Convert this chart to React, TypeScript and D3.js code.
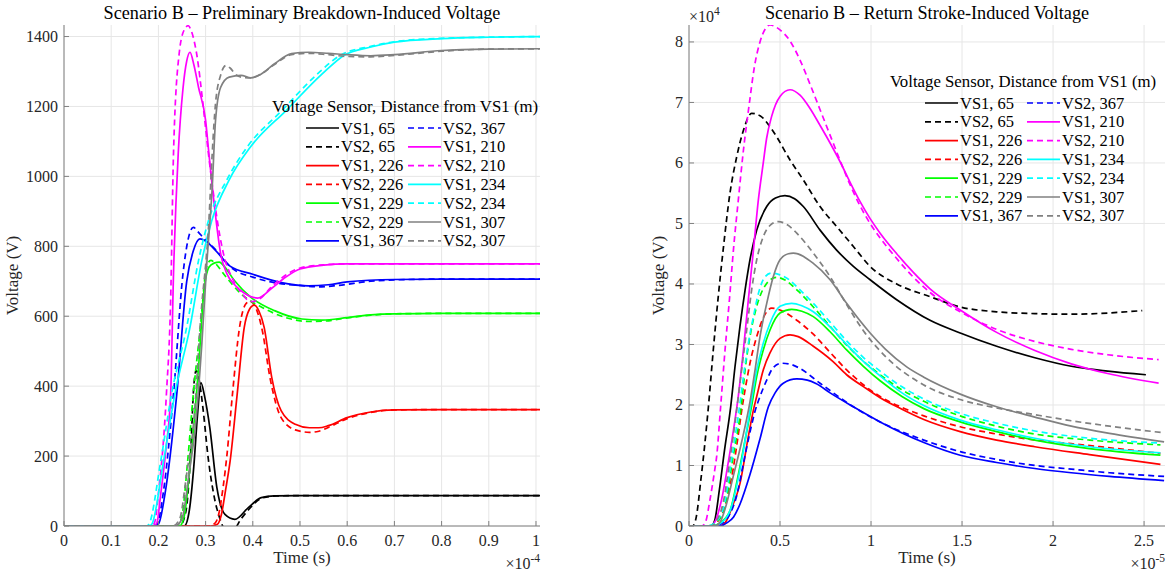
import React from 'react';
import * as d3 from 'd3';

type Pt = [number, number];

// ---------- Series metadata (plot / legend order) ----------
const SERIES_NAMES = ['VS1, 65', 'VS2, 65', 'VS1, 226', 'VS2, 226', 'VS1, 229', 'VS2, 229', 'VS1, 367',
  'VS2, 367', 'VS1, 210', 'VS2, 210', 'VS1, 234', 'VS2, 234', 'VS1, 307', 'VS2, 307'];
const SERIES_COLORS = ['#000000', '#000000', '#ff0000', '#ff0000', '#00ff00', '#00ff00', '#0000ff',
  '#0000ff', '#ff00ff', '#ff00ff', '#00ffff', '#00ffff', '#808080', '#808080'];
const SERIES_DASHED = [false, true, false, true, false, true, false, true, false, true, false, true, false, true];

// ---------- Preliminary breakdown (time in 1e-4 s, voltage in V) ----------
const pbVS1_65: Pt[] = [[0,0],[0.255,0],[0.265,40],[0.275,170],[0.283,320],[0.29,410],[0.298,370],[0.309,281],[0.324,109],[0.341,33],[0.362,19],[0.39,52],[0.418,81],[0.446,86],[0.5,87],[1.0085,87]];
const pbVS2_65: Pt[] = [[0,0],[0.245,0],[0.258,40],[0.268,200],[0.275,400],[0.28,445],[0.286,420],[0.295,330],[0.305,200],[0.317,92],[0.33,22],[0.345,-15],[0.36,-10],[0.375,20],[0.39,45],[0.42,80],[0.45,86],[0.5,87],[1.0085,87]];
const pbVS1_226: Pt[] = [[0,0],[0.31,0],[0.325,5],[0.333,30],[0.342,100],[0.352,186],[0.367,378],[0.382,569],[0.393,620],[0.403,632],[0.413,615],[0.424,569],[0.44,426],[0.46,330],[0.49,291],[0.52,281],[0.54,281],[0.56,287],[0.6,310],[0.65,326],[0.7,332],[0.8,333],[1.0085,333]];
const pbVS2_226: Pt[] = [[0,0],[0.305,0],[0.32,8],[0.328,35],[0.337,110],[0.345,200],[0.357,378],[0.372,569],[0.385,635],[0.394,643],[0.405,628],[0.42,560],[0.437,420],[0.46,310],[0.49,275],[0.52,268],[0.54,271],[0.56,282],[0.6,307],[0.65,325],[0.7,332],[0.8,333],[1.0085,333]];
const pbVS1_229: Pt[] = [[0,0],[0.245,0],[0.255,30],[0.268,186],[0.286,472],[0.296,664],[0.307,740],[0.318,752],[0.329,755],[0.34,742],[0.361,702],[0.396,654],[0.446,616],[0.504,592],[0.546,589],[0.6,596],[0.65,604],[0.7,607],[0.8,608],[1.0085,608]];
const pbVS2_229: Pt[] = [[0,0],[0.24,0],[0.25,30],[0.262,186],[0.274,378],[0.289,569],[0.302,740],[0.311,760],[0.32,752],[0.34,718],[0.375,664],[0.42,625],[0.47,596],[0.52,585],[0.55,586],[0.6,595],[0.65,603],[0.7,607],[0.8,608],[1.0085,608]];
const pbVS1_367: Pt[] = [[0,0],[0.19,0],[0.2,5],[0.214,92],[0.239,378],[0.26,700],[0.274,787],[0.288,821],[0.3,815],[0.32,790],[0.351,744],[0.4,720],[0.458,697],[0.518,687],[0.56,690],[0.6,698],[0.7,705],[0.8,706],[1.0085,706]];
const pbVS2_367: Pt[] = [[0,0],[0.185,0],[0.197,5],[0.21,92],[0.232,378],[0.252,720],[0.263,820],[0.274,854],[0.285,840],[0.295,825],[0.32,792],[0.357,736],[0.4,712],[0.45,695],[0.5,688],[0.54,684],[0.58,688],[0.65,700],[0.7,704],[0.8,706],[1.0085,706]];
const pbVS1_210: Pt[] = [[0,0],[0.19,0],[0.197,10],[0.205,92],[0.216,220],[0.226,378],[0.232,720],[0.242,1065],[0.252,1250],[0.26,1330],[0.267,1355],[0.275,1320],[0.285,1255],[0.3,1160],[0.307,1065],[0.32,900],[0.332,778],[0.345,722],[0.36,692],[0.38,668],[0.41,652],[0.44,680],[0.47,712],[0.5,735],[0.55,746],[0.6,750],[1.0085,750]];
const pbVS2_210: Pt[] = [[0,0],[0.185,0],[0.192,10],[0.2,92],[0.217,378],[0.226,650],[0.232,1065],[0.244,1351],[0.255,1420],[0.263,1431],[0.27,1415],[0.281,1351],[0.295,1200],[0.306,1065],[0.338,778],[0.36,700],[0.38,660],[0.39,645],[0.4,642],[0.415,650],[0.44,685],[0.47,718],[0.5,738],[0.55,747],[0.6,750],[1.0085,750]];
const pbVS1_234: Pt[] = [[0,0],[0.18,0],[0.186,5],[0.211,186],[0.235,378],[0.267,569],[0.292,759],[0.313,873],[0.35,990],[0.395,1084],[0.471,1189],[0.547,1293],[0.593,1346],[0.65,1370],[0.7,1384],[0.8,1394],[0.9,1398],[1.0085,1400]];
const pbVS2_234: Pt[] = [[0,0],[0.175,0],[0.18,5],[0.205,186],[0.228,378],[0.26,569],[0.285,759],[0.306,873],[0.345,990],[0.388,1084],[0.462,1189],[0.537,1293],[0.585,1346],[0.65,1372],[0.7,1385],[0.8,1395],[1.0085,1400]];
const pbVS1_307: Pt[] = [[0,0],[0.235,0],[0.25,20],[0.265,150],[0.278,281],[0.292,521],[0.302,740],[0.314,968],[0.321,1159],[0.332,1255],[0.35,1284],[0.375,1289],[0.396,1282],[0.418,1293],[0.446,1322],[0.482,1351],[0.518,1355],[0.56,1352],[0.6,1348],[0.65,1345],[0.7,1348],[0.8,1360],[0.9,1364],[1.0085,1365]];
const pbVS2_307: Pt[] = [[0,0],[0.23,0],[0.245,20],[0.26,150],[0.275,300],[0.29,600],[0.307,873],[0.314,1065],[0.321,1208],[0.332,1290],[0.343,1317],[0.352,1310],[0.365,1290],[0.38,1283],[0.396,1282],[0.418,1293],[0.446,1320],[0.482,1348],[0.518,1352],[0.56,1348],[0.6,1343],[0.65,1342],[0.7,1346],[0.8,1358],[0.9,1364],[1.0085,1365]];

// ---------- Return stroke (time in 1e-5 s, voltage in 1e4 V) ----------
const rsVS1_65: Pt[] = [[0,0],[0.12,0],[0.14,0.08],[0.167,0.6],[0.195,1.25],[0.229,1.97],[0.253,2.64],[0.28,3.3],[0.308,3.9],[0.335,4.4],[0.372,4.89],[0.427,5.28],[0.475,5.42],[0.527,5.46],[0.58,5.41],[0.628,5.28],[0.72,4.89],[0.811,4.56],[0.903,4.29],[0.995,4.07],[1.141,3.74],[1.324,3.4],[1.49,3.19],[1.69,2.97],[1.9,2.78],[2.1,2.64],[2.3,2.56],[2.51,2.5]];
const rsVS2_65: Pt[] = [[0,0],[0.02,0],[0.04,0.15],[0.065,0.76],[0.085,1.3],[0.106,1.95],[0.134,2.93],[0.161,3.8],[0.189,4.6],[0.225,5.5],[0.262,6.1],[0.3,6.55],[0.344,6.82],[0.39,6.78],[0.463,6.52],[0.555,6.05],[0.628,5.72],[0.72,5.28],[0.811,4.95],[0.903,4.62],[0.995,4.29],[1.141,4.0],[1.324,3.79],[1.49,3.62],[1.69,3.54],[1.9,3.51],[2.1,3.5],[2.3,3.52],[2.49,3.56]];
const rsVS1_226: Pt[] = [[0,0],[0.17,0],[0.2,0.06],[0.235,0.3],[0.28,0.7],[0.326,1.48],[0.354,1.92],[0.372,2.14],[0.408,2.58],[0.445,2.86],[0.5,3.1],[0.555,3.16],[0.6,3.13],[0.683,2.97],[0.79,2.72],[0.866,2.5],[0.96,2.3],[1.05,2.12],[1.17,1.93],[1.29,1.76],[1.49,1.56],[1.69,1.42],[1.9,1.31],[2.2,1.18],[2.59,1.02]];
const rsVS2_226: Pt[] = [[0,0],[0.12,0],[0.15,0.05],[0.189,0.25],[0.243,0.95],[0.268,1.45],[0.289,1.9],[0.308,2.25],[0.335,2.69],[0.372,3.13],[0.408,3.44],[0.454,3.6],[0.5,3.57],[0.592,3.4],[0.683,3.17],[0.775,2.87],[0.866,2.58],[0.96,2.33],[1.05,2.14],[1.17,1.96],[1.29,1.82],[1.49,1.64],[1.69,1.52],[1.9,1.42],[2.1,1.36],[2.59,1.2]];
const rsVS1_229: Pt[] = [[0,0],[0.13,0],[0.17,0.05],[0.225,0.25],[0.271,0.85],[0.31,1.45],[0.344,1.98],[0.372,2.47],[0.408,2.91],[0.445,3.24],[0.5,3.52],[0.564,3.58],[0.62,3.55],[0.683,3.46],[0.775,3.21],[0.866,2.91],[0.958,2.64],[1.05,2.4],[1.17,2.14],[1.29,1.94],[1.49,1.72],[1.69,1.56],[1.9,1.42],[2.2,1.28],[2.59,1.17]];
const rsVS2_229: Pt[] = [[0,0],[0.1,0],[0.145,0.05],[0.195,0.3],[0.24,1.1],[0.289,2.03],[0.308,2.58],[0.335,3.13],[0.372,3.63],[0.42,3.98],[0.48,4.11],[0.53,4.06],[0.6,3.88],[0.683,3.62],[0.775,3.3],[0.866,2.99],[0.96,2.72],[1.05,2.5],[1.17,2.25],[1.29,2.06],[1.49,1.82],[1.69,1.65],[1.9,1.52],[2.2,1.42],[2.59,1.34]];
const rsVS1_367: Pt[] = [[0,0],[0.17,0],[0.207,0.05],[0.245,0.15],[0.28,0.36],[0.335,0.85],[0.39,1.44],[0.436,1.97],[0.473,2.2],[0.518,2.36],[0.592,2.43],[0.65,2.41],[0.7,2.35],[0.775,2.2],[0.903,1.97],[1.05,1.72],[1.29,1.38],[1.49,1.17],[1.69,1.05],[1.9,0.95],[2.1,0.88],[2.31,0.82],[2.61,0.75]];
const rsVS2_367: Pt[] = [[0,0],[0.13,0],[0.19,0.06],[0.225,0.2],[0.262,0.5],[0.3,1.05],[0.335,1.55],[0.363,1.9],[0.39,2.14],[0.427,2.41],[0.463,2.62],[0.509,2.69],[0.56,2.67],[0.6,2.62],[0.72,2.36],[0.903,1.97],[1.05,1.72],[1.29,1.42],[1.49,1.23],[1.69,1.1],[1.9,1.0],[2.1,0.94],[2.31,0.88],[2.61,0.82]];
const rsVS1_210: Pt[] = [[0,0],[0.12,0],[0.15,0.12],[0.18,0.45],[0.21,0.95],[0.24,1.5],[0.271,2.15],[0.299,2.91],[0.326,3.74],[0.354,4.56],[0.381,5.39],[0.408,6.0],[0.426,6.4],[0.454,6.77],[0.5,7.1],[0.555,7.21],[0.61,7.12],[0.665,6.9],[0.72,6.62],[0.775,6.33],[0.83,6.02],[0.885,5.68],[0.94,5.36],[0.995,5.08],[1.05,4.84],[1.141,4.5],[1.23,4.2],[1.324,3.92],[1.49,3.57],[1.69,3.2],[1.9,2.9],[2.1,2.68],[2.3,2.52],[2.58,2.36]];
const rsVS2_210: Pt[] = [[0,0],[0.07,0],[0.09,0.06],[0.115,0.43],[0.14,0.9],[0.152,1.15],[0.174,1.98],[0.198,2.91],[0.222,3.74],[0.244,4.56],[0.271,5.39],[0.299,6.21],[0.33,6.95],[0.36,7.6],[0.39,8.0],[0.42,8.22],[0.445,8.28],[0.5,8.2],[0.554,8.02],[0.61,7.7],[0.665,7.3],[0.72,6.88],[0.775,6.46],[0.83,6.04],[0.885,5.64],[0.94,5.29],[0.995,5.0],[1.05,4.76],[1.141,4.42],[1.23,4.12],[1.324,3.86],[1.49,3.54],[1.69,3.25],[1.9,3.05],[2.1,2.92],[2.3,2.83],[2.58,2.75]];
const rsVS1_234: Pt[] = [[0,0],[0.13,0],[0.17,0.04],[0.225,0.25],[0.29,1.09],[0.335,1.92],[0.372,2.58],[0.408,3.02],[0.445,3.35],[0.5,3.63],[0.564,3.68],[0.62,3.64],[0.683,3.54],[0.775,3.29],[0.866,3.0],[0.958,2.72],[1.05,2.48],[1.17,2.2],[1.29,1.99],[1.49,1.75],[1.69,1.59],[1.9,1.45],[2.2,1.31],[2.59,1.21]];
const rsVS2_234: Pt[] = [[0,0],[0.1,0],[0.14,0.05],[0.189,0.3],[0.234,1.1],[0.28,2.03],[0.299,2.47],[0.326,3.02],[0.354,3.46],[0.381,3.84],[0.418,4.12],[0.454,4.18],[0.5,4.15],[0.55,4.07],[0.6,3.93],[0.683,3.68],[0.775,3.37],[0.866,3.06],[0.96,2.78],[1.05,2.56],[1.17,2.3],[1.29,2.1],[1.49,1.86],[1.69,1.7],[1.9,1.57],[2.2,1.45],[2.59,1.37]];
const rsVS1_307: Pt[] = [[0,0],[0.14,0],[0.17,0.06],[0.2,0.3],[0.243,0.82],[0.29,1.4],[0.335,2.05],[0.363,2.58],[0.39,3.13],[0.427,3.68],[0.463,4.12],[0.5,4.4],[0.546,4.5],[0.573,4.51],[0.683,4.34],[0.775,4.07],[0.866,3.68],[0.995,3.19],[1.08,2.92],[1.196,2.63],[1.29,2.46],[1.49,2.18],[1.69,1.97],[1.9,1.8],[2.1,1.65],[2.31,1.53],[2.61,1.39]];
const rsVS2_307: Pt[] = [[0,0],[0.12,0],[0.15,0.08],[0.189,0.4],[0.225,1.1],[0.262,1.92],[0.289,2.58],[0.317,3.24],[0.344,3.9],[0.372,4.4],[0.408,4.78],[0.45,4.98],[0.49,5.03],[0.54,4.98],[0.592,4.84],[0.683,4.51],[0.775,4.12],[0.866,3.66],[0.96,3.22],[1.08,2.8],[1.29,2.33],[1.49,2.09],[1.69,1.95],[1.9,1.84],[2.1,1.74],[2.31,1.65],[2.61,1.54]];

const PB_DATA: Pt[][] = [pbVS1_65, pbVS2_65, pbVS1_226, pbVS2_226, pbVS1_229, pbVS2_229, pbVS1_367,
  pbVS2_367, pbVS1_210, pbVS2_210, pbVS1_234, pbVS2_234, pbVS1_307, pbVS2_307];
const RS_DATA: Pt[][] = [rsVS1_65, rsVS2_65, rsVS1_226, rsVS2_226, rsVS1_229, rsVS2_229, rsVS1_367,
  rsVS2_367, rsVS1_210, rsVS2_210, rsVS1_234, rsVS2_234, rsVS1_307, rsVS2_307];

// ---------- Ticks ----------
const PB_X_TICKS = [0, 0.1, 0.2, 0.3, 0.4, 0.5, 0.6, 0.7, 0.8, 0.9, 1];
const PB_Y_TICKS = [0, 200, 400, 600, 800, 1000, 1200, 1400];
const RS_X_TICKS = [0, 0.5, 1, 1.5, 2, 2.5];
const RS_Y_TICKS = [0, 1, 2, 3, 4, 5, 6, 7, 8];

const PB_TITLE = 'Scenario B \u2013 Preliminary Breakdown-Induced Voltage';
const RS_TITLE = 'Scenario B \u2013 Return Stroke-Induced Voltage';
const LEGEND_TITLE = 'Voltage Sensor, Distance from VS1 (m)';
const X_LABEL = 'Time (s)';
const Y_LABEL = 'Voltage (V)';

const FONT = "'Liberation Serif', 'DejaVu Serif', 'Times New Roman', serif";
const TEXT = '#262626';
const fs = (size: number) => ({ fontFamily: FONT, fontSize: size + 'px' });

interface PanelProps {
  id: string;
  left: number; top: number; width: number; height: number;
  xDomain: [number, number]; yDomain: [number, number];
  xTicks: number[]; yTicks: number[];
  data: Pt[][];
  title: string;
  xExp: string;
  yExp?: string;
  legendX: number; legendY: number; legendTitleX: number;
  yLabelX: number;
}

function Panel(p: PanelProps) {
  const x = d3.scaleLinear().domain(p.xDomain).range([p.left, p.left + p.width]);
  const y = d3.scaleLinear().domain(p.yDomain).range([p.top + p.height, p.top]);
  const line = d3.line<Pt>().x(d => x(d[0])).y(d => y(d[1])).curve(d3.curveMonotoneX);
  const bottom = p.top + p.height;
  const right = p.left + p.width;
  const cx = p.left + p.width / 2;
  const rowH = 18.8;
  return (
    <g>
      <defs>
        <clipPath id={p.id}>
          <rect x={p.left} y={p.top} width={p.width} height={p.height} />
        </clipPath>
      </defs>
      {p.xTicks.map(t => (
        <line key={'gx' + t} x1={x(t)} x2={x(t)} y1={p.top} y2={bottom} stroke="#e6e6e6" strokeWidth={1} />
      ))}
      {p.yTicks.map(t => (
        <line key={'gy' + t} x1={p.left} x2={right} y1={y(t)} y2={y(t)} stroke="#e6e6e6" strokeWidth={1} />
      ))}
      <g clipPath={`url(#${p.id})`}>
        {p.data.map((d, i) => (
          <path key={i} d={line(d) || ''} fill="none" stroke={SERIES_COLORS[i]} strokeWidth={1.7}
            strokeDasharray={SERIES_DASHED[i] ? '6,4' : undefined} />
        ))}
      </g>
      <line x1={p.left} x2={p.left} y1={p.top} y2={bottom} stroke="#808080" strokeWidth={1} />
      <line x1={p.left} x2={right} y1={bottom} y2={bottom} stroke="#808080" strokeWidth={1} />
      {p.xTicks.map(t => (
        <g key={'tx' + t}>
          <line x1={x(t)} x2={x(t)} y1={bottom} y2={bottom - 5} stroke="#808080" />
          <text x={x(t)} y={bottom + 20} textAnchor="middle" style={fs(16)} fill={TEXT}>{String(t)}</text>
        </g>
      ))}
      {p.yTicks.map(t => (
        <g key={'ty' + t}>
          <line x1={p.left} x2={p.left + 5} y1={y(t)} y2={y(t)} stroke="#808080" />
          <text x={p.left - 6} y={y(t) + 5.5} textAnchor="end" style={fs(16)} fill={TEXT}>{String(t)}</text>
        </g>
      ))}
      <text x={cx} y={19} textAnchor="middle" style={fs(18.2)} fill="#000">{p.title}</text>
      <text x={cx} y={bottom + 37} textAnchor="middle" style={fs(17)} fill={TEXT}>{X_LABEL}</text>
      <text transform={`translate(${p.yLabelX},${p.top + p.height / 2}) rotate(-90)`} textAnchor="middle"
        style={fs(17)} fill={TEXT}>{Y_LABEL}</text>
      <text x={right} y={bottom + 43} textAnchor="end" style={fs(16)} fill={TEXT}>
        {'\u00d710'}<tspan dy={-7} style={fs(11.5)}>{p.xExp}</tspan>
      </text>
      {p.yExp && (
        <text x={p.left} y={p.top - 3} textAnchor="start" style={fs(16)} fill={TEXT}>
          {'\u00d710'}<tspan dy={-7} style={fs(11.5)}>{p.yExp}</tspan>
        </text>
      )}
      <text x={p.legendTitleX} y={p.legendY - 16} textAnchor="middle" style={fs(16.8)} fill="#000">{LEGEND_TITLE}</text>
      {SERIES_NAMES.map((name, i) => {
        const col = i < 7 ? 0 : 1;
        const row = i % 7;
        const lx = p.legendX + col * 102;
        const ly = p.legendY + row * rowH;
        return (
          <g key={'lg' + i}>
            <line x1={lx} x2={lx + 33} y1={ly} y2={ly} stroke={SERIES_COLORS[i]} strokeWidth={1.7}
              strokeDasharray={SERIES_DASHED[i] ? '6,4' : undefined} />
            <text x={lx + 35} y={ly + 5.5} style={fs(16.5)} fill="#000">{name}</text>
          </g>
        );
      })}
    </g>
  );
}

export default function App() {
  return (
    <svg width={1169} height={573} style={{ position: 'absolute', left: 0, top: 0, background: '#fff' }}
      xmlns="http://www.w3.org/2000/svg">
      <rect x={0} y={0} width={1169} height={573} fill="#fff" />
      <Panel id="clip-pb" left={64} top={25} width={476} height={501}
        xDomain={[0, 1.0085]} yDomain={[0, 1433]} xTicks={PB_X_TICKS} yTicks={PB_Y_TICKS}
        data={PB_DATA} title={PB_TITLE} xExp="-4"
        legendX={306} legendY={128} legendTitleX={405} yLabelX={18} />
      <Panel id="clip-rs" left={689} top={25} width={476} height={501}
        xDomain={[0, 2.615]} yDomain={[0, 8.28]} xTicks={RS_X_TICKS} yTicks={RS_Y_TICKS}
        data={RS_DATA} title={RS_TITLE} xExp="-5" yExp="4"
        legendX={925} legendY={103} legendTitleX={1023} yLabelX={664} />
    </svg>
  );
}
